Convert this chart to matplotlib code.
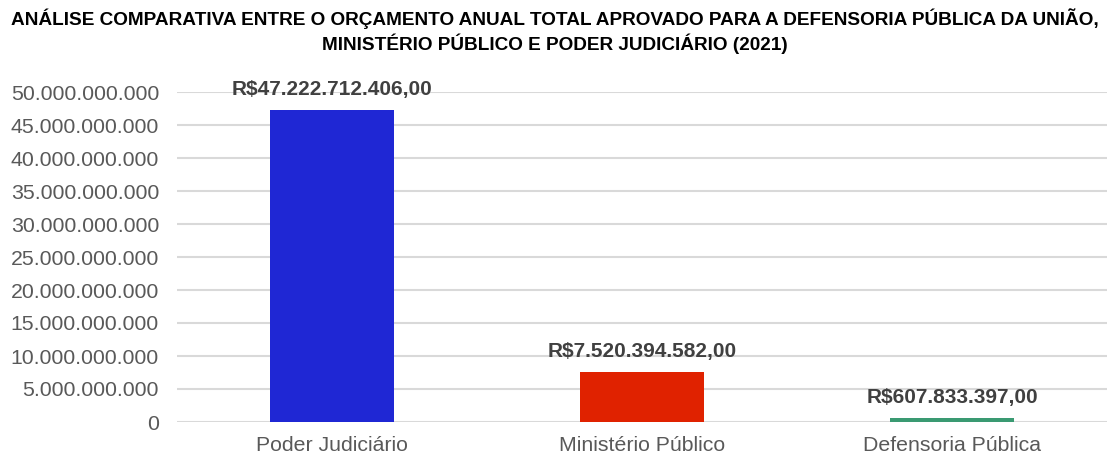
import matplotlib
matplotlib.use("Agg")
import matplotlib.pyplot as plt
from matplotlib.ticker import FuncFormatter

categories = ["Poder Judiciário", "Ministério Público", "Defensoria Pública"]
values = [47222712406.00, 7520394582.00, 607833397.00]
value_labels = ["R$47.222.712.406,00", "R$7.520.394.582,00", "R$607.833.397,00"]
colors = ["#1F27D4", "#E02200", "#3A9A72"]
title = ("ANÁLISE COMPARATIVA ENTRE O ORÇAMENTO ANUAL TOTAL APROVADO PARA A DEFENSORIA PÚBLICA DA UNIÃO,\n"
         "MINISTÉRIO PÚBLICO E PODER JUDICIÁRIO (2021)")

plt.rcParams['font.family'] = ['Liberation Sans', 'DejaVu Sans']

fig = plt.figure(figsize=(11.09, 4.57), dpi=100)
ax = fig.add_axes([177/1109, 1-422/457, (1107-177)/1109, (422-92)/457])

x = range(len(categories))
ax.bar(x, values, width=0.4, color=colors, zorder=3)
ax.set_xlim(-0.5, 2.5)
ax.set_ylim(0, 50e9)
ax.set_yticks([i * 5e9 for i in range(11)])
ax.yaxis.set_major_formatter(FuncFormatter(lambda v, p: f"{int(round(v)):,}".replace(",", ".")))
ax.set_xticks(list(x))
ax.set_xticklabels(categories)
ax.tick_params(axis='both', length=0, labelsize=15.3, colors="#595959")
ax.tick_params(axis='x', pad=10)
ax.tick_params(axis='y', pad=13)
ax.grid(axis='y', color="#D9D9D9", linewidth=1.5, zorder=0)
for s in ax.spines.values():
    s.set_visible(False)

for xi, v, lab in zip(x, values, value_labels):
    ax.annotate(lab, (xi, v), xytext=(0, 8), textcoords='offset points',
                ha='center', va='bottom', fontsize=15, fontweight='bold', color="#404040", zorder=4)

fig.text(0.5, 1-31/457, title, ha='center', va='center', fontsize=13.7, fontweight='bold',
         color="#000000", linespacing=1.25)

fig.savefig("out.png", dpi=100)
